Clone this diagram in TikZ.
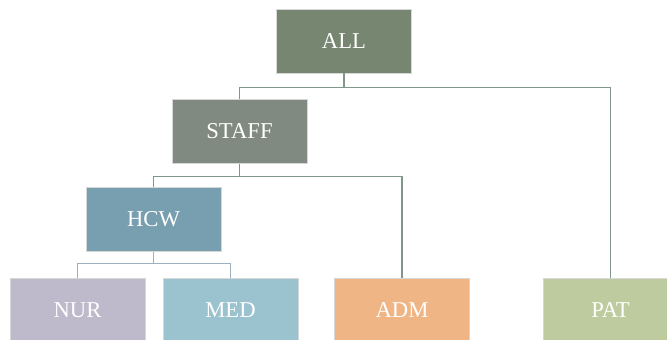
\documentclass[tikz,border=0pt]{standalone}
\usepackage{fontspec}
\setmainfont{Liberation Serif}
\usepackage{tikz}

\definecolor{allgreen}{RGB}{118,134,112}
\definecolor{staffgray}{RGB}{129,138,128}
\definecolor{hcwblue}{RGB}{119,159,176}
\definecolor{nurlilac}{RGB}{190,185,203}
\definecolor{medblue}{RGB}{155,195,207}
\definecolor{admorange}{RGB}{240,181,133}
\definecolor{patgreen}{RGB}{189,203,158}
\definecolor{linkgreen}{RGB}{128,150,136}
\definecolor{linkblue}{RGB}{155,178,190}

\tikzset{
  box/.style={draw={rgb,255:red,215;green,215;blue,215}, line width=0.4pt,
    minimum width=101.25pt, minimum height=48pt, inner sep=0pt,
    text=white, font=\fontsize{17}{20}\selectfont},
  link/.style={line width=1pt, draw=linkgreen},
}

\begin{document}
\begin{tikzpicture}[x=0.75pt,y=0.75pt,yscale=-1,xscale=1]
        \useasboundingbox (0,0) rectangle (667,339);

        % Boxes
        \node [box, fill=allgreen] (all) at (344,41) {ALL};
        \node [box, fill=staffgray] (staff) at (239.5,131.5) {STAFF};
        \node [box, fill=hcwblue] (hcw) at (153.5,219.5) {HCW};
        \node [box, fill=nurlilac] (nur) at (77.5,310) {NUR};
        \node [box, fill=medblue] (med) at (230.5,310) {MED};
        \node [box, fill=admorange] (adm) at (402,310) {ADM};
        \node [box, fill=patgreen] (pat) at (610.5,310) {PAT};

        % Connectors
        \draw [link] (all.south) -- ++(0,14) coordinate (allbar) -| (staff.north);
        \draw [link] (allbar) -| (pat.north);
        \draw [link] (staff.south) -- ++(0,12.5) coordinate (staffbar) -| (hcw.north);
        \draw [link] (staffbar) -| (adm.north);
        \draw [link, draw=linkblue] (hcw.south) -- ++(0,12) coordinate (hcwbar) -| (nur.north);
        \draw [link, draw=linkblue] (hcwbar) -| (med.north);

\end{tikzpicture}
\end{document}
